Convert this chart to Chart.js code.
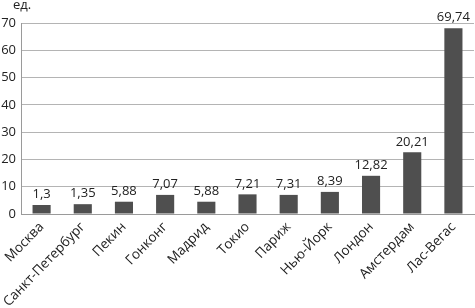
<!DOCTYPE html>
<html>
<head>
<meta charset="utf-8">
<script src="https://cdn.jsdelivr.net/npm/chart.js@4/dist/chart.umd.min.js"></script>
<style>
html,body{margin:0;padding:0;background:#fff;}
#wrap{width:475px;height:308px;position:relative;}
</style>
</head>
<body>
<div id="wrap"><canvas id="c" width="475" height="308"></canvas></div>
<script>
const categories = ["Москва","Санкт-Петербург","Пекин","Гонконг","Мадрид","Токио","Париж","Нью-Йорк","Лондон","Амстердам","Лас-Вегас"];
// bar heights as drawn in the picture
const barValues = [3.3, 3.6, 4.5, 7.0, 4.5, 7.2, 7.0, 8.1, 14.0, 22.6, 68.1];
// value labels printed above the bars
const valueLabels = ["1,3","1,35","5,88","7,07","5,88","7,21","7,31","8,39","12,82","20,21","69,74"];
const yTicks = [0,10,20,30,40,50,60,70];
const unitLabel = "ед.";

const FONT = "'Open Sans', 'DejaVu Sans', sans-serif";

const labelPlugin = {
  id: 'valueLabels',
  afterDatasetsDraw(chart) {
    const ctx = chart.ctx;
    const meta = chart.getDatasetMeta(0);
    ctx.save();
    ctx.font = "13px " + FONT;
    ctx.fillStyle = "#222";
    ctx.textAlign = "center";
    ctx.textBaseline = "bottom";
    meta.data.forEach((bar, i) => {
      ctx.fillText(valueLabels[i], bar.x, bar.y - 4);
    });
    ctx.textAlign = "left";
    ctx.textBaseline = "top";
    ctx.fillText(unitLabel, 13, -1);
    ctx.restore();
  }
};

new Chart(document.getElementById('c'), {
  type: 'bar',
  data: {
    labels: categories,
    datasets: [{
      data: barValues,
      backgroundColor: '#4f4f4f',
      borderWidth: 0,
      barPercentage: 0.44,
      categoryPercentage: 1.0
    }]
  },
  options: {
    responsive: false,
    animation: false,
    events: [],
    layout: { padding: { top: 23, right: 1, left: 0, bottom: 0 } },
    plugins: { legend: { display: false }, tooltip: { enabled: false }, title: { display: false } },
    scales: {
      x: {
        grid: { display: false, drawTicks: false },
        border: { display: true, color: '#9a9a9a', width: 1 },
        ticks: {
          font: { family: FONT, size: 13.5 },
          color: '#222',
          minRotation: 46,
          maxRotation: 46,
          autoSkip: false,
          padding: 5
        },
        afterFit(scale) { scale.height = 94; scale.paddingLeft = 0; scale.paddingRight = 0; }
      },
      y: {
        min: 0,
        max: 70,
        afterBuildTicks(scale) { scale.ticks = yTicks.map(v => ({ value: v })); },
        grid: { color: '#b4b4b4', lineWidth: 1, drawTicks: false },
        border: { display: true, color: '#9a9a9a', width: 1 },
        ticks: {
          font: { family: FONT, size: 13 },
          color: '#222',
          padding: 5
        },
        afterFit(scale) { scale.width = 21; scale.paddingTop = 0; scale.paddingBottom = 0; }
      }
    }
  },
  plugins: [labelPlugin]
});
</script>
</body>
</html>
